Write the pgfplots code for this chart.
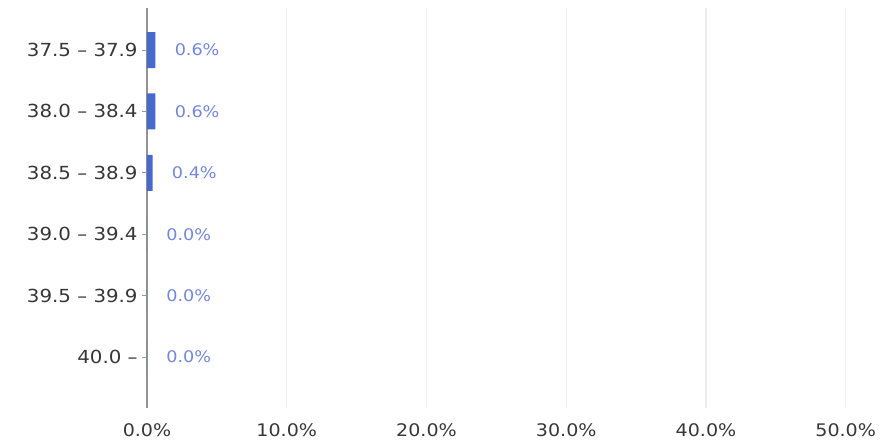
\documentclass[border=0pt]{standalone}
\usepackage{pgfplots}
\pgfplotsset{compat=1.18}
\usepackage{fontspec}
\setmainfont{DejaVu Sans}[FakeStretch=1.1]
\definecolor{barblue}{RGB}{72,104,205}
\definecolor{lblblue}{RGB}{115,135,220}
\definecolor{txt}{RGB}{55,55,55}
\begin{document}
\begin{tikzpicture}
\path[use as bounding box] (-110.25pt,-23.25pt) rectangle (550.5pt,306pt);
\begin{pgfinterruptboundingbox}
\begin{axis}[
  at={(0pt,0pt)}, anchor=south west,
  scale only axis,
  width=545pt, height=300pt,
  xbar, bar width=27pt,
  xmin=0, xmax=52,
  ymin=-0.684, ymax=5.83,
  y dir=reverse,
  axis x line=bottom, axis y line=left,
  x axis line style={draw=none,-},
  y axis line style={draw=gray!85,-, line width=1.1pt},
  xtick={0,10,20,30,40,50},
  xticklabel={\pgfmathprintnumber[fixed,fixed zerofill,precision=1]{\tick}\%},
  /pgf/number format/assume math mode=true,
  x tick style={draw=none},
  ytick={0,1,2,3,4,5},
  yticklabels={37.5 – 37.9, 38.0 – 38.4, 38.5 – 38.9, 39.0 – 39.4, 39.5 – 39.9, 40.0 –},
  y tick style={draw=gray!80, line width=0.6pt},
  tick align=outside, major tick length=3.5pt,
  xmajorgrids, grid style={gray!14, line width=1pt},
  tick label style={font=\fontsize{13.5}{16}\selectfont, text=txt},
  xticklabel style={anchor=center, inner sep=1pt, yshift=-13pt, font=\fontsize{13}{15}\selectfont},
  yticklabel style={xshift=0pt},
  point meta=x,
  nodes near coords={\pgfmathprintnumber[fixed,fixed zerofill,precision=1]{\pgfplotspointmeta}\%},
  every node near coord/.append style={anchor=west, xshift=11pt, font=\fontsize{12}{14}\selectfont, text=lblblue},
]
\addplot[fill=barblue, draw=none] coordinates {(0.6,0) (0.6,1) (0.4,2) (0.0,3) (0.0,4) (0.0,5)};
\end{axis}
\end{pgfinterruptboundingbox}
\end{tikzpicture}
\end{document}
